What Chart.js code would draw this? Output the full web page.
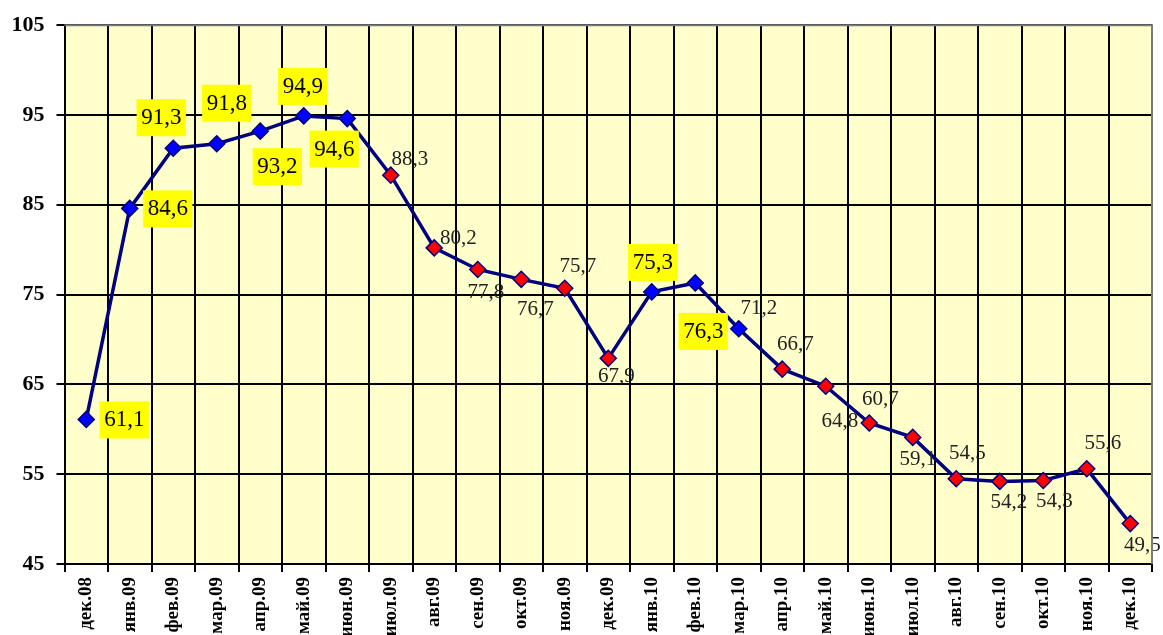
<!DOCTYPE html>
<html>
<head>
    <meta charset="UTF-8">
    <title>Динамика показателя, дек.08 - дек.10</title>
    <script src="https://cdn.jsdelivr.net/npm/chart.js"></script>
    <style>
        html, body { margin: 0; padding: 0; background: #fff; }
        #wrap { width: 1163px; height: 635px; position: relative; }
    </style>
</head>
<body>
<div id="wrap"><canvas id="chart"></canvas></div>
<script>
    // months on the x axis
    const months = ['дек.08', 'янв.09', 'фев.09', 'мар.09', 'апр.09', 'май.09', 'июн.09', 'июл.09',
        'авг.09', 'сен.09', 'окт.09', 'ноя.09', 'дек.09', 'янв.10', 'фев.10', 'мар.10', 'апр.10',
        'май.10', 'июн.10', 'июл.10', 'авг.10', 'сен.10', 'окт.10', 'ноя.10', 'дек.10'];
    const values = [61.1, 84.6, 91.3, 91.8, 93.2, 94.9, 94.6, 88.3, 80.2, 77.8, 76.7, 75.7, 67.9,
        75.3, 76.3, 71.2, 66.7, 64.8, 60.7, 59.1, 54.5, 54.2, 54.3, 55.6, 49.5];
    // y axis
    const yMin = 45, yMax = 105, yStep = 10;
    // which points have a blue marker (others red)
    const blueMarker = [1,1,1,1,1,1,1,0,0,0,0,0,0,1,1,1,0,0,0,0,0,0,0,0,0];
    // which labels sit in a yellow box
    const boxedLabel = [1,1,1,1,1,1,1,0,0,0,0,0,0,1,1,0,0,0,0,0,0,0,0,0,0];
    // label offset from its point (dx, dy)
    const labelShift = [[38,0],[38,0],[-12,-31],[10,-41],[17,35],[-1,-30],[-13,30],[19,-17],
        [24,-10],[8,22],[14,29],[13,-23],[8,17],[1,-30],[8,48],[20,-21],[13,-26],[14,34],
        [11,-25],[5,21],[11,-26],[9,20],[11,20],[16,-26],[12,21]];

    const SERIF = '"Liberation Serif", "Times New Roman", serif';

    // yellow plot background + grey top/right frame
    const plotFrame = {
        id: 'plotFrame',
        beforeDraw(chart) {
            const a = chart.chartArea, c = chart.ctx;
            c.save();
            c.fillStyle = '#FFFFCC';
            c.fillRect(a.left, a.top, a.right - a.left, a.bottom - a.top);
            c.restore();
        },
        afterDraw(chart) {
            const a = chart.chartArea, c = chart.ctx;
            c.save();
            c.strokeStyle = '#7a7a7a';
            c.lineWidth = 2;
            c.beginPath();
            c.moveTo(a.left, a.top);
            c.lineTo(a.right, a.top);
            c.lineTo(a.right, a.bottom);
            c.stroke();
            c.restore();
        }
    };

    // value labels, comma as decimal separator
    const valueLabels = {
        id: 'valueLabels',
        afterDatasetsDraw(chart) {
            const c = chart.ctx;
            const pts = chart.getDatasetMeta(0).data;
            c.save();
            c.textAlign = 'center';
            c.textBaseline = 'middle';
            pts.forEach((p, i) => {
                const txt = values[i].toFixed(1).replace('.', ',');
                const x = p.x + labelShift[i][0];
                const y = p.y + labelShift[i][1];
                if (boxedLabel[i]) {
                    c.font = '23px ' + SERIF;
                    const w = c.measureText(txt).width + 9;
                    c.fillStyle = '#FFFF00';
                    c.fillRect(x - w / 2, y - 18, w, 37);
                    c.fillStyle = '#000';
                } else {
                    c.font = '21px ' + SERIF;
                    c.fillStyle = '#222';
                }
                c.fillText(txt, x, y + 1);
            });
            c.restore();
        }
    };

    new Chart(document.getElementById('chart'), {
        type: 'line',
        data: {
            labels: months,
            datasets: [{
                data: values,
                borderColor: '#000080',
                borderWidth: 3.5,
                tension: 0,
                pointStyle: 'rectRot',
                pointRadius: 8,
                pointHoverRadius: 8,
                pointBorderWidth: 1.5,
                pointBorderColor: '#000080',
                pointBackgroundColor: blueMarker.map(b => b ? '#0000FF' : '#FF0000')
            }]
        },
        options: {
            responsive: true,
            maintainAspectRatio: false,
            animation: false,
            layout: { padding: { top: 22, right: 11, left: 0, bottom: 0 } },
            plugins: {
                legend: { display: false },
                tooltip: { enabled: false }
            },
            scales: {
                x: {
                    offset: true,
                    afterFit(s) { s.height = 71; },
                    grid: {
                        offset: true,
                        color: '#000',
                        lineWidth: 2,
                        tickLength: 8
                    },
                    border: { color: '#000', width: 2 },
                    ticks: {
                        minRotation: 90,
                        maxRotation: 90,
                        autoSkip: false,
                        padding: 5,
                        color: '#000',
                        font: { family: SERIF, size: 19, weight: 'bold' }
                    }
                },
                y: {
                    min: yMin,
                    max: yMax,
                    afterFit(s) { s.width = 64.5; },
                    grid: {
                        color: '#000',
                        lineWidth: 2,
                        tickLength: 8
                    },
                    border: { color: '#000', width: 2 },
                    ticks: {
                        stepSize: yStep,
                        padding: 12,
                        color: '#000',
                        font: { family: SERIF, size: 22, weight: 'bold' }
                    }
                }
            }
        },
        plugins: [plotFrame, valueLabels]
    });
</script>
</body>
</html>
